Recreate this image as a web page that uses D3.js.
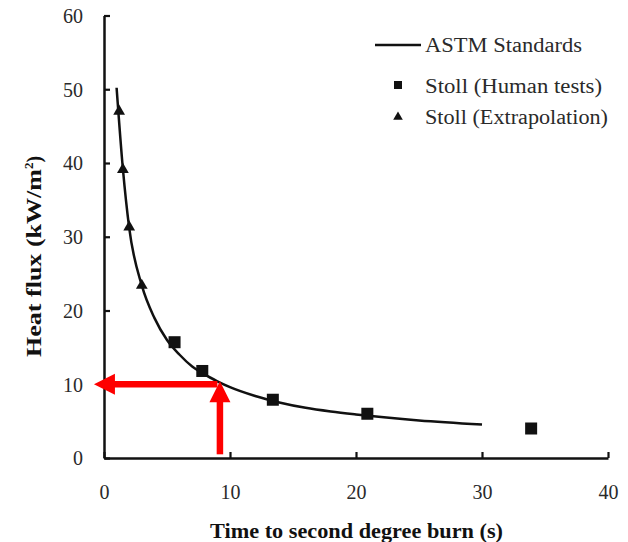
<!DOCTYPE html>
<html>
<head>
<meta charset="utf-8">
<script src="https://cdn.jsdelivr.net/npm/d3@7"></script>
<style>
  html, body { margin: 0; padding: 0; background: #fff; }
  svg { display: block; }
  text { font-family: "Liberation Serif", "Times New Roman", serif; }
</style>
</head>
<body>
<svg id="chart" width="628" height="542"></svg>
<script>
// ---- data ----
const astmTime = [1, 1.5, 2, 3, 4, 5, 6, 7, 8, 9, 10, 12, 14, 16, 18, 20, 25, 30];
const astmFlux = [50.2, 39.2, 31.2, 23.4, 19.0, 16.0, 14.0, 12.4, 11.3, 10.4, 9.6, 8.4, 7.5, 6.8, 6.3, 5.9, 5.1, 4.55];
const humanTime = [5.6, 7.8, 13.4, 20.9, 33.9];
const humanFlux = [15.7, 11.8, 7.9, 6.0, 4.0];
const extraTime = [1.2, 1.5, 2.0, 3.0];
const extraFlux = [47.0, 39.1, 31.3, 23.4];
const xTicks = [0, 10, 20, 30, 40];
const yTicks = [0, 10, 20, 30, 40, 50, 60];
const legendLabels = ["ASTM Standards", "Stoll (Human tests)", "Stoll (Extrapolation)"];
// red arrows (data units): horizontal from (9.0,10) to (-0.8,10); vertical from (9.2,0.5) to (9.2,10.4)
const arrowFrom = [[9.0, 10], [9.2, 0.5]];
const arrowTo = [[-0.8, 10], [9.2, 10.4]];

const svg = d3.select("#chart");
const x = d3.scaleLinear().domain([0, 40]).range([104, 608]);
const y = d3.scaleLinear().domain([0, 60]).range([458, 15.5]);

// axes
const gx = svg.append("g").attr("transform", `translate(0,${y(0)})`)
  .call(d3.axisBottom(x).tickValues(xTicks).tickSizeInner(-6).tickSizeOuter(0).tickPadding(0).tickFormat(d3.format("d")));
gx.select(".domain").attr("stroke", "#111").attr("stroke-width", 2.5);
gx.selectAll(".tick line").attr("stroke", "#111").attr("stroke-width", 2.2);
gx.selectAll(".tick text").attr("y", 41).attr("dy", 0).attr("font-size", 20).attr("fill", "#2a2a2a")
  .attr("font-family", "Liberation Serif");

const gy = svg.append("g").attr("transform", `translate(${x(0)},0)`)
  .call(d3.axisLeft(y).tickValues(yTicks).tickSizeInner(-6).tickSizeOuter(0).tickPadding(21).tickFormat(d3.format("d")));
gy.select(".domain").attr("stroke", "#111").attr("stroke-width", 2.5);
gy.selectAll(".tick line").attr("stroke", "#111").attr("stroke-width", 2.2);
gy.selectAll(".tick text").attr("font-size", 20).attr("fill", "#2a2a2a").attr("dy", "0.34em")
  .attr("font-family", "Liberation Serif");

// axis titles
svg.append("text").attr("x", 210).attr("y", 538)
  .attr("font-size", 20).attr("font-weight", "bold").attr("fill", "#111")
  .attr("textLength", 293).attr("lengthAdjust", "spacingAndGlyphs")
  .text("Time to second degree burn  (s)");
const yt = svg.append("text").attr("transform", "translate(41,357) rotate(-90)")
  .attr("font-size", 20).attr("font-weight", "bold").attr("fill", "#111");
yt.append("tspan").attr("textLength", 188).attr("lengthAdjust", "spacingAndGlyphs").text("Heat flux (kW/m");
yt.append("tspan").attr("font-size", 13).attr("dy", -8).text("2");
yt.append("tspan").attr("dy", 8).text(")");

// ASTM curve
const line = d3.line().x(d => x(d[0])).y(d => y(d[1])).curve(d3.curveMonotoneX);
svg.append("path").datum(astmTime.map((t, i) => [t, astmFlux[i]]))
  .attr("d", line).attr("fill", "none").attr("stroke", "#111").attr("stroke-width", 2.5);

// triangles
const tri = d3.symbol().type(d3.symbolTriangle).size(60);
svg.selectAll(".tri").data(extraTime.map((t, i) => [t, extraFlux[i]])).join("path")
  .attr("class", "tri").attr("d", tri)
  .attr("transform", d => `translate(${x(d[0])},${y(d[1])})`).attr("fill", "#111");

// squares
const sq = 12;
svg.selectAll(".sq").data(humanTime.map((t, i) => [t, humanFlux[i]])).join("rect")
  .attr("class", "sq").attr("x", d => x(d[0]) - sq / 2).attr("y", d => y(d[1]) - sq / 2)
  .attr("width", sq).attr("height", sq).attr("fill", "#111");

// red arrows
function arrow(p0, p1) {
  const x0 = x(p0[0]), y0 = y(p0[1]), x1 = x(p1[0]), y1 = y(p1[1]);
  const ang = Math.atan2(y1 - y0, x1 - x0);
  const len = Math.hypot(x1 - x0, y1 - y0);
  const headL = 21, headW = 21, shaftW = 6.5;
  const g = svg.append("g").attr("transform", `translate(${x0},${y0}) rotate(${ang * 180 / Math.PI})`);
  g.append("rect").attr("x", 0).attr("y", -shaftW / 2).attr("width", len - headL + 1).attr("height", shaftW).attr("fill", "#fe0000");
  g.append("path").attr("d", `M${len},0 L${len - headL},${-headW / 2} L${len - headL},${headW / 2} Z`).attr("fill", "#fe0000");
}
arrowFrom.forEach((p, i) => arrow(p, arrowTo[i]));

// legend
const lg = svg.append("g");
lg.append("line").attr("x1", 375).attr("x2", 421).attr("y1", 45).attr("y2", 45).attr("stroke", "#111").attr("stroke-width", 2.5);
lg.append("rect").attr("x", 394).attr("y", 81).attr("width", 8).attr("height", 8).attr("fill", "#111");
lg.append("path").attr("d", d3.symbol().type(d3.symbolTriangle).size(40)).attr("transform", "translate(398,117)").attr("fill", "#111");
const lgY = [52, 93, 124];
const lgX = [425, 425, 425];
const lgLen = [157, 177, 183];
lg.selectAll("text").data(legendLabels).join("text")
  .attr("x", (d, i) => lgX[i]).attr("y", (d, i) => lgY[i])
  .attr("textLength", (d, i) => lgLen[i]).attr("lengthAdjust", "spacingAndGlyphs")
  .attr("font-size", 20).attr("fill", "#2a2a2a").text(d => d);
</script>
</body>
</html>
